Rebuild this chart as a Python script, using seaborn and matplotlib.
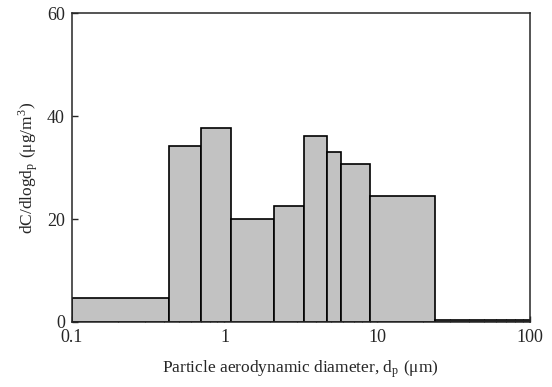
import numpy as np
import pandas as pd
import matplotlib
matplotlib.use('Agg')
import matplotlib.pyplot as plt
import seaborn as sns

# impactor stage cut sizes (um) and concentrations
bin_edges = [0.1, 0.43, 0.7, 1.1, 2.1, 3.3, 4.7, 5.8, 9.0, 24.0, 100.0]
conc = [4.7, 34.1, 37.6, 20.0, 22.6, 36.1, 33.0, 30.7, 24.4, 0.3]

mids = np.sqrt(np.array(bin_edges[:-1]) * np.array(bin_edges[1:]))
df = pd.DataFrame({'dp': mids, 'dC': conc})

sns.set_style('ticks')
plt.rcParams['font.family'] = ['Liberation Serif', 'DejaVu Serif']
plt.rcParams['mathtext.fontset'] = 'stix'

fig = plt.figure(figsize=(5.52, 3.87), dpi=100)
ax = fig.add_axes([0.130, 0.168, 0.830, 0.798])

sns.histplot(data=df, x='dp', weights='dC', bins=bin_edges, ax=ax,
             color='#c2c2c2', edgecolor='black', linewidth=1.2, alpha=1)

ax.set_xscale('log')
ax.set_xlim(0.1, 100)
ax.set_ylim(0, 60)
ax.set_yticks([0, 20, 40, 60])
ax.set_xticks([0.1, 1, 10, 100])
ax.set_xticklabels(['0.1', '1', '10', '100'])
ax.tick_params(axis='both', direction='in', labelsize=13, length=4, width=1)
ax.tick_params(axis='x', which='minor', direction='in', length=2.5, width=0.8)
ax.tick_params(axis='both', pad=5)
for s in ax.spines.values():
    s.set_visible(True)
    s.set_linewidth(1.1)

ax.set_xlabel(r'Particle aerodynamic diameter, d$_\mathregular{p}$ ($\mathregular{\mu}$m)',
              fontsize=12.5, labelpad=9)
ax.set_ylabel(r'dC/dlogd$_\mathregular{p}$ ($\mathregular{\mu}$g/m$^\mathregular{3}$)',
              fontsize=12.5, labelpad=4)

fig.savefig('out.png', dpi=100)
